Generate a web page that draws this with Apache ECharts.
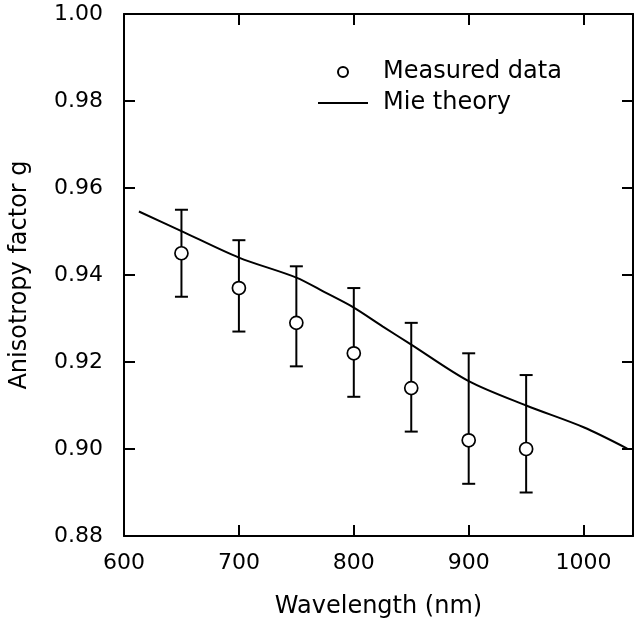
<!DOCTYPE html>
<html>
<head>
<meta charset="utf-8">
<script src="https://cdn.jsdelivr.net/npm/echarts@6/dist/echarts.min.js"></script>
<style>
html,body{margin:0;padding:0;background:#fff;}
#chart{width:635px;height:624px;}
</style>
</head>
<body>
<div id="chart"></div>
<script>
// Measured data (wavelength in nm, anisotropy factor g)
const wavelengths = [650, 700, 750, 800, 850, 900, 950];
const measured    = [0.945, 0.937, 0.929, 0.922, 0.914, 0.902, 0.900];
const errLow      = [0.935, 0.927, 0.919, 0.912, 0.904, 0.892, 0.890];
const errHigh     = [0.955, 0.948, 0.942, 0.937, 0.929, 0.922, 0.917];

// Mie theory curve
const mieX = [613, 650, 700, 750, 775, 800, 825, 850, 900, 950, 1000, 1038];
const mieY = [0.9546, 0.9501, 0.9440, 0.9394, 0.9360, 0.9325, 0.9282, 0.9240, 0.9156, 0.9100, 0.9050, 0.9001];

const xTicks = [600, 700, 800, 900, 1000];
const yTicks = [0.88, 0.90, 0.92, 0.94, 0.96, 0.98, 1.00];

const FONT = '"DejaVu Sans", sans-serif';
const chart = echarts.init(document.getElementById('chart'), null, {renderer: 'canvas'});

const measuredData = wavelengths.map((w, i) => [w, measured[i]]);
const errData = wavelengths.map((w, i) => [w, errLow[i], errHigh[i]]);
const mieData = mieX.map((w, i) => [w, mieY[i]]);

const axisLine = {show: true, lineStyle: {color: '#000', width: 2}};
const axisTick = {show: true, inside: true, length: 11, lineStyle: {color: '#000', width: 2}};

chart.setOption({
  animation: false,
  backgroundColor: '#fff',
  grid: {left: 121, right: 2, top: 14, bottom: 85, containLabel: false},
  legend: {
    orient: 'vertical',
    left: 317,
    top: 60,
    padding: 0,
    itemWidth: 50,
    itemHeight: 10,
    itemGap: 7,
    textStyle: {fontFamily: FONT, fontSize: 24, color: '#000', lineHeight: 24, padding: [0, 0, 0, 10]},
    data: [
      {name: 'Measured data', icon: 'emptyCircle', itemStyle: {color: '#000', borderColor: '#000', borderWidth: 1.5}},
      {name: 'Mie theory', itemStyle: {color: 'rgba(0,0,0,0)', borderColor: 'rgba(0,0,0,0)', borderWidth: 0, opacity: 0},
       lineStyle: {color: '#000', width: 2, opacity: 1}}
    ]
  },
  xAxis: [
    {
      type: 'value', min: 600, max: 1043, interval: 100,
      name: 'Wavelength (nm)', nameLocation: 'middle', nameGap: 59,
      nameTextStyle: {fontFamily: FONT, fontSize: 24, color: '#000'},
      axisLine: axisLine, axisTick: axisTick, splitLine: {show: false},
      axisLabel: {
        margin: 16, fontFamily: FONT, fontSize: 22, color: '#000',
        showMaxLabel: false,
        formatter: v => xTicks.indexOf(v) >= 0 ? String(v) : ''
      }
    },
    {
      type: 'value', position: 'top', min: 600, max: 1043, interval: 100,
      axisLine: axisLine, axisTick: axisTick, axisLabel: {show: false}, splitLine: {show: false}
    }
  ],
  yAxis: [
    {
      type: 'value', min: 0.88, max: 1.00, interval: 0.02,
      name: 'Anisotropy factor g', nameLocation: 'middle', nameGap: 92, nameRotate: 90,
      nameTextStyle: {fontFamily: FONT, fontSize: 24, color: '#000'},
      axisLine: axisLine, axisTick: axisTick, splitLine: {show: false},
      axisLabel: {
        margin: 21, fontFamily: FONT, fontSize: 22, color: '#000',
        formatter: v => v.toFixed(2)
      }
    },
    {
      type: 'value', position: 'right', min: 0.88, max: 1.00, interval: 0.02,
      axisLine: axisLine, axisTick: axisTick, axisLabel: {show: false}, splitLine: {show: false}
    }
  ],
  series: [
    {
      name: 'Mie theory',
      type: 'line',
      data: mieData,
      showSymbol: false,
      symbol: 'none',
      smooth: 0.3,
      lineStyle: {color: '#000', width: 2},
      itemStyle: {color: '#000'},
      z: 2
    },
    {
      name: 'errorbars',
      type: 'custom',
      data: errData,
      encode: {x: 0, y: [1, 2]},
      z: 3,
      silent: true,
      renderItem: function (params, api) {
        const x = api.value(0);
        const lo = api.coord([x, api.value(1)]);
        const hi = api.coord([x, api.value(2)]);
        const hw = 6.5;
        const style = {stroke: '#000', lineWidth: 2, fill: null};
        return {
          type: 'group',
          children: [
            {type: 'line', shape: {x1: lo[0], y1: lo[1], x2: hi[0], y2: hi[1]}, style: style},
            {type: 'line', shape: {x1: lo[0] - hw, y1: lo[1], x2: lo[0] + hw, y2: lo[1]}, style: style},
            {type: 'line', shape: {x1: hi[0] - hw, y1: hi[1], x2: hi[0] + hw, y2: hi[1]}, style: style}
          ]
        };
      }
    },
    {
      name: 'Measured data',
      type: 'scatter',
      data: measuredData,
      symbol: 'circle',
      symbolSize: 13,
      itemStyle: {color: '#fff', borderColor: '#000', borderWidth: 1.7, opacity: 1},
      z: 5
    }
  ]
});
</script>
</body>
</html>
